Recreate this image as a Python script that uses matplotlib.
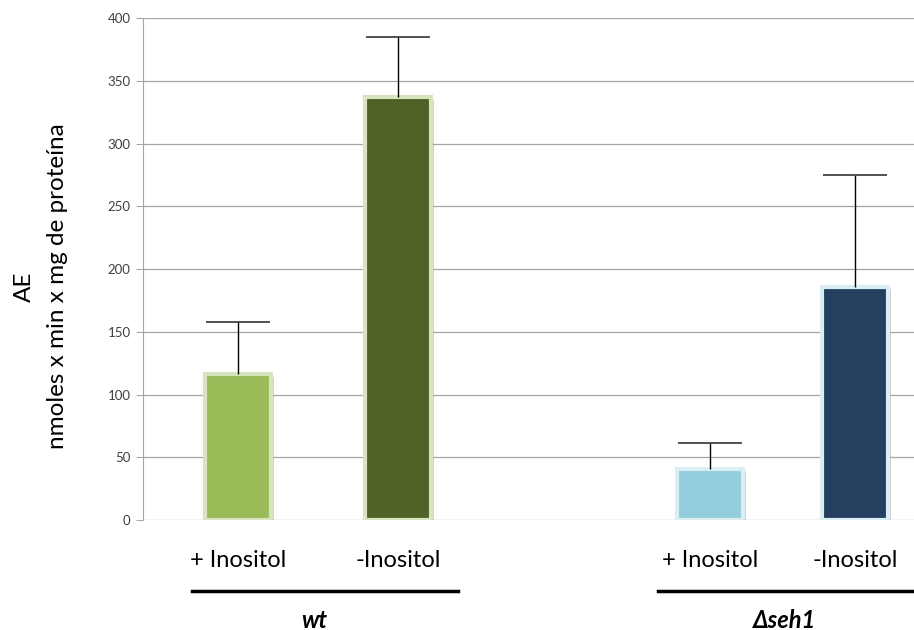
import matplotlib
matplotlib.use('Agg')
import matplotlib.pyplot as plt
import matplotlib.patheffects as pe
from matplotlib.lines import Line2D

plt.rcParams['font.family'] = ['Lato', 'DejaVu Sans']

# datos
categorias = ['+ Inositol', '-Inositol', '+ Inositol', '-Inositol']
grupos = ['wt', 'Δseh1']
valores = [116, 337, 41, 186]
errores = [42, 48, 20, 89]
colores = ['#9bbb59', '#4f6228', '#92cddc', '#243f60']
bordes = ['#d7e4bd', '#d7e4bd', '#dbeef4', '#dbeef4']
posiciones = [0.95, 2.55, 5.67, 7.12]

fig = plt.figure(figsize=(9.14, 6.30), dpi=100)
ax = fig.add_axes([0.1565, 0.1746, 0.8435, 0.7968])

ax.set_xlim(0, 7.71)
ax.set_ylim(0, 400)

#グリッド
ax.set_yticks(range(0, 401, 50))
ax.yaxis.grid(True, color='#a6a6a6', lw=0.9)
ax.set_axisbelow(True)
for s in ['top', 'right', 'bottom']:
    ax.spines[s].set_visible(False)
ax.spines['left'].set_color('#a6a6a6')
ax.tick_params(axis='y', length=5, color='#a6a6a6', labelsize=9.5,
               labelcolor='#404040', pad=4)
ax.set_xticks([])

# barras
sombra = [pe.SimplePatchShadow(offset=(2, -2), shadow_rgbFace='#7f7f7f', alpha=0.35), pe.Normal()]
barras = ax.bar(posiciones, valores, width=0.66, color=colores,
                edgecolor=bordes, linewidth=3)
for b in barras:
    b.set_path_effects(sombra)

# barras de error (solo hacia arriba, sin tapa inferior)
tops = [v + e for v, e in zip(valores, errores)]
ax.vlines(posiciones, valores, tops, color='black', lw=1)
ax.hlines(tops, [p - 0.32 for p in posiciones], [p + 0.32 for p in posiciones],
          color='#333333', lw=1.2)

ax.set_ylabel('AE\nnmoles x min x mg de proteína', fontsize=17.5,
              linespacing=1.75)
ax.yaxis.set_label_coords(-0.097, 0.465)

# etiquetas de categoría
for x, t in zip(posiciones, categorias):
    ax.text(x, -32, t, ha='center', va='center', fontsize=17)

# líneas de grupo
fig.add_artist(Line2D([192 / 914, 458 / 914], [1 - 591 / 630] * 2, color='black', lw=2.5))
fig.add_artist(Line2D([658 / 914, 914 / 914], [1 - 591 / 630] * 2, color='black', lw=2.5))
fig.text(314 / 914, 1 - 620 / 630, grupos[0], ha='center', va='center',
         fontsize=17, fontweight='bold', fontstyle='italic')
fig.text(785 / 914, 1 - 620 / 630, grupos[1], ha='center', va='center',
         fontsize=17, fontweight='bold', fontstyle='italic')

fig.savefig('out.png', dpi=100)
